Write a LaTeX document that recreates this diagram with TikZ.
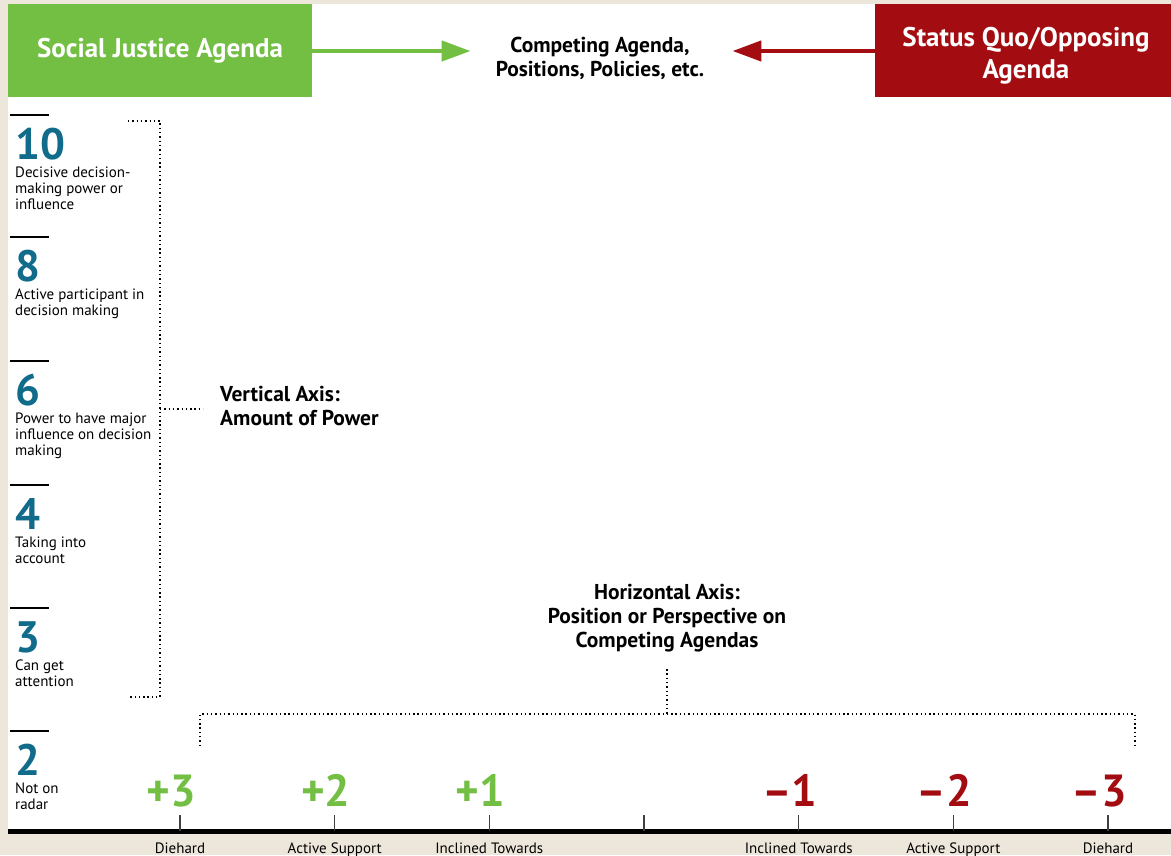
\documentclass[tikz,border=0pt]{standalone}
\usepackage{fontspec}
\setmainfont{PT Sans}
\usetikzlibrary{arrows.meta,positioning}

\definecolor{sjgreen}{HTML}{72BF44}
\definecolor{sqred}{HTML}{A30D12}
\definecolor{powteal}{HTML}{116C8B}
\definecolor{paper}{HTML}{EDE6DA}

\tikzset{
    agenda/.style={text=white, font=\fontsize{27}{32}\selectfont\bfseries, align=center, inner sep=0pt},
    level/.style={text=powteal, font=\fontsize{44}{44}\selectfont\bfseries, anchor=base west, inner sep=0pt},
    leveltext/.style={font=\fontsize{15}{16}\selectfont, align=left, anchor=north west, inner sep=0pt},
    axistitle/.style={font=\fontsize{21.5}{24}\selectfont\bfseries, inner sep=0pt},
    dots/.style={line width=1.4pt, dash pattern=on 1.4pt off 2.9pt},
    stance/.style={font=\fontsize{45}{45}\selectfont\bfseries, anchor=base, inner sep=0pt},
    stancetext/.style={font=\fontsize{15}{16}\selectfont, anchor=base, inner sep=0pt},
    push/.style={line width=4.5pt, -{Triangle[length=29pt,width=20pt]}},
}

\begin{document}
\begin{tikzpicture}[x=1pt, y=-1pt]
    \useasboundingbox (0,0) rectangle (1171,855);
    \fill[paper] (0,0) rectangle (1171,855);
    \fill[white] (8,4) rectangle (1171,831);

    % the two agendas and what sits between them
    \fill[sjgreen] (8,4) rectangle (312,97);
    \fill[sqred] (875,4) rectangle (1171,97);
    \node[agenda] (sja) at (160,51) {Social Justice Agenda};
    \node[agenda] (sqa) at (1026,56) {Status Quo/Opposing\\Agenda};
    \coordinate (sjaside) at (312,51);
    \coordinate (sqaside) at (875,51);
    \node[font=\fontsize{21.5}{24}\selectfont\bfseries, align=center, inner sep=0pt] (comp) at (600,58)
        {Competing Agenda,\\Positions, Policies, etc.};
    \draw[push, sjgreen] (sjaside) -- ([xshift=-25pt]sjaside -| comp.west);
    \draw[push, sqred] (sqaside) -- ([xshift=28pt]sqaside -| comp.east);

    % power levels
    \foreach \y/\n/\txt in {115/10/{Decisive decision-\\making power or\\influence},
                            237/8/{Active participant in\\decision making},
                            361/6/{Power to have major\\influence on decision\\making},
                            485/4/{Taking into\\account},
                            608/3/{Can get\\attention},
                            731/2/{Not on\\radar}} {
        \draw[line width=2pt] (10,\y) -- (49,\y);
        \node[level] (lv\n) at (15,\y+44) {\n};
        \node[leveltext] (lvtxt\n) at (15,\y+52) {\txt};
    }

    \coordinate (vbrace) at (160,409);
    \draw[dots] (128,121) -| (160,697) -- (130,697);
    \node[axistitle, anchor=west, align=left] (vaxis) at (220,406) {Vertical Axis:\\Amount of Power};
    \draw[dots] (vbrace) -- ([xshift=-17pt]vbrace -| vaxis.west);

    % positions on the agendas
    \node[axistitle, align=center] (haxis) at (667,618)
        {Horizontal Axis:\\Position or Perspective on\\Competing Agendas};
    \coordinate (hbrace) at (667,714);
    \draw[dots] ([yshift=-17pt]haxis.south) -- (hbrace);
    \draw[dots] (200,746) |- (1135,714) -- (1135,746);

    \draw[line width=5pt] (8,831) -- (1171,831);
    \foreach \x in {180,334.7,489.3,644,798.7,953.3,1108}
        \draw[line width=1.5pt, black!75] (\x,815) -- (\x,831);

    \foreach \x/\n/\c/\lab [count=\i] in {180/+3/sjgreen/Diehard,
                                          334.7/+2/sjgreen/Active Support,
                                          489.3/+1/sjgreen/Inclined Towards,
                                          798.7/\textendash1/sqred/Inclined Towards,
                                          953.3/\textendash2/sqred/Active Support,
                                          1108/\textendash3/sqred/Diehard} {
        \node[stance, text=\c] (st\i) at (\x-9,806) {\n};
        \node[stancetext] (stlab\i) at (\x,853) {\lab};
    }
\end{tikzpicture}
\end{document}
